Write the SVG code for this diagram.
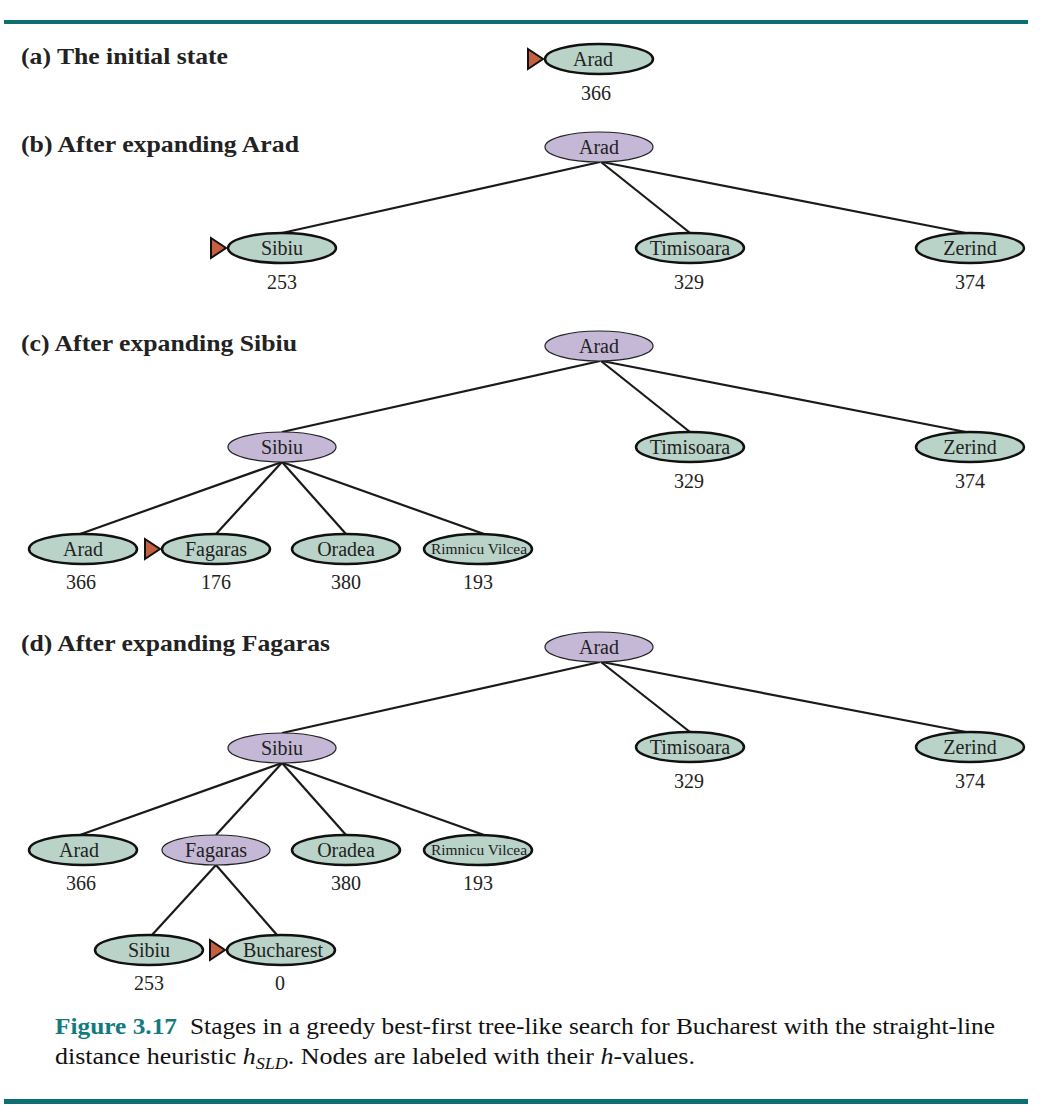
<svg xmlns="http://www.w3.org/2000/svg" width="1056" height="1120" viewBox="0 0 1056 1120" font-family="'Liberation Serif', 'Times New Roman', Times, serif">
<style>
.g{fill:#b9d3c8;stroke:#111;stroke-width:2.5}
.p{fill:#c4b8d6;stroke:#222;stroke-width:1.2}
.t{font-size:20px;fill:#222;text-anchor:middle}
.s{font-size:15px;fill:#222;text-anchor:middle}
.h{font-size:23px;font-weight:bold;fill:#222}
.c{font-size:23px;fill:#111}
.fig{font-size:23px;font-weight:bold;fill:#137b7e}
.e line{stroke:#1a1a1a;stroke-width:2.2}
.ptr{fill:#c4603f;stroke:#111;stroke-width:2}
</style>
<rect x="4" y="20" width="1024" height="4" fill="#0e6f72"/>
<rect x="4" y="1099" width="1024" height="5" fill="#0e6f72"/>
<text class="h" x="21" y="64" textLength="207" lengthAdjust="spacingAndGlyphs">(a) The initial state</text>
<text class="h" x="21" y="152" textLength="278" lengthAdjust="spacingAndGlyphs">(b) After expanding Arad</text>
<text class="h" x="21" y="351" textLength="276" lengthAdjust="spacingAndGlyphs">(c) After expanding Sibiu</text>
<text class="h" x="21" y="651" textLength="309" lengthAdjust="spacingAndGlyphs">(d) After expanding Fagaras</text>
<g id="edges" class="e">
<line x1="600" y1="162" x2="282" y2="233"/>
<line x1="601" y1="162" x2="690" y2="233"/>
<line x1="602" y1="162" x2="966" y2="233"/>
<line x1="600" y1="361" x2="282" y2="432"/>
<line x1="601" y1="361" x2="690" y2="432"/>
<line x1="602" y1="361" x2="966" y2="432"/>
<line x1="282" y1="462" x2="80" y2="534"/>
<line x1="282" y1="462" x2="216" y2="534"/>
<line x1="282" y1="462" x2="346" y2="534"/>
<line x1="282" y1="462" x2="484" y2="534"/>
<line x1="600" y1="662" x2="282" y2="733"/>
<line x1="601" y1="662" x2="690" y2="732"/>
<line x1="602" y1="662" x2="966" y2="732"/>
<line x1="282" y1="763" x2="80" y2="835"/>
<line x1="282" y1="763" x2="216" y2="835"/>
<line x1="282" y1="763" x2="346" y2="835"/>
<line x1="282" y1="763" x2="484" y2="835"/>
<line x1="216" y1="865" x2="152" y2="935"/>
<line x1="216" y1="865" x2="277" y2="935"/>
</g>
<g id="a-arad"><polygon class="ptr" points="528,49 543,59 528,69"/><ellipse class="g" cx="599" cy="59" rx="54" ry="15"/><text class="t" x="593" y="66">Arad</text><text class="t" x="596" y="100">366</text></g>
<g id="b-arad"><ellipse class="p" cx="599" cy="147" rx="54" ry="15"/><text class="t" x="599" y="154">Arad</text></g>
<g id="b-sibiu"><polygon class="ptr" points="211,238 226,248 211,258"/><ellipse class="g" cx="282" cy="248" rx="54" ry="15"/><text class="t" x="282" y="255">Sibiu</text><text class="t" x="282" y="289">253</text></g>
<g id="b-timisoara"><ellipse class="g" cx="690" cy="248" rx="54" ry="15"/><text class="t" x="690" y="255">Timisoara</text><text class="t" x="689" y="289">329</text></g>
<g id="b-zerind"><ellipse class="g" cx="970" cy="248" rx="54" ry="15"/><text class="t" x="970" y="255">Zerind</text><text class="t" x="970" y="289">374</text></g>
<g id="c-arad"><ellipse class="p" cx="599" cy="346" rx="54" ry="15"/><text class="t" x="599" y="353">Arad</text></g>
<g id="c-sibiu"><ellipse class="p" cx="282" cy="447" rx="54" ry="15"/><text class="t" x="282" y="454">Sibiu</text></g>
<g id="c-timisoara"><ellipse class="g" cx="690" cy="447" rx="54" ry="15"/><text class="t" x="690" y="454">Timisoara</text><text class="t" x="689" y="488">329</text></g>
<g id="c-zerind"><ellipse class="g" cx="970" cy="447" rx="54" ry="15"/><text class="t" x="970" y="454">Zerind</text><text class="t" x="970" y="488">374</text></g>
<g id="c-arad2"><ellipse class="g" cx="83" cy="549" rx="54" ry="15"/><text class="t" x="83" y="556">Arad</text><text class="t" x="81" y="589">366</text></g>
<g id="c-fagaras"><polygon class="ptr" points="145,539 160,549 145,559"/><ellipse class="g" cx="216" cy="549" rx="54" ry="15"/><text class="t" x="216" y="556">Fagaras</text><text class="t" x="216" y="589">176</text></g>
<g id="c-oradea"><ellipse class="g" cx="346" cy="549" rx="54" ry="15"/><text class="t" x="346" y="556">Oradea</text><text class="t" x="346" y="589">380</text></g>
<g id="c-rimnicu"><ellipse class="g" cx="478" cy="549" rx="54" ry="15"/><text class="s" x="479" y="554" textLength="96" lengthAdjust="spacingAndGlyphs">Rimnicu Vilcea</text><text class="t" x="478" y="589">193</text></g>
<g id="d-arad"><ellipse class="p" cx="599" cy="647" rx="54" ry="15"/><text class="t" x="599" y="654">Arad</text></g>
<g id="d-sibiu"><ellipse class="p" cx="282" cy="748" rx="54" ry="15"/><text class="t" x="282" y="755">Sibiu</text></g>
<g id="d-timisoara"><ellipse class="g" cx="690" cy="747" rx="54" ry="15"/><text class="t" x="690" y="754">Timisoara</text><text class="t" x="689" y="788">329</text></g>
<g id="d-zerind"><ellipse class="g" cx="970" cy="747" rx="54" ry="15"/><text class="t" x="970" y="754">Zerind</text><text class="t" x="970" y="788">374</text></g>
<g id="d-arad2"><ellipse class="g" cx="83" cy="850" rx="54" ry="15"/><text class="t" x="79" y="857">Arad</text><text class="t" x="81" y="890">366</text></g>
<g id="d-fagaras"><ellipse class="p" cx="216" cy="850" rx="54" ry="15"/><text class="t" x="216" y="857">Fagaras</text></g>
<g id="d-oradea"><ellipse class="g" cx="346" cy="850" rx="54" ry="15"/><text class="t" x="346" y="857">Oradea</text><text class="t" x="346" y="890">380</text></g>
<g id="d-rimnicu"><ellipse class="g" cx="478" cy="850" rx="54" ry="15"/><text class="s" x="479" y="855" textLength="96" lengthAdjust="spacingAndGlyphs">Rimnicu Vilcea</text><text class="t" x="478" y="890">193</text></g>
<g id="d-sibiu2"><ellipse class="g" cx="149" cy="950" rx="54" ry="15"/><text class="t" x="149" y="957">Sibiu</text><text class="t" x="149" y="990">253</text></g>
<g id="d-bucharest"><polygon class="ptr" points="210,940 225,950 210,960"/><ellipse class="g" cx="281" cy="950" rx="54" ry="15"/><text class="t" x="283" y="957">Bucharest</text><text class="t" x="280" y="990">0</text></g>
<text class="fig" x="55" y="1034" textLength="122" lengthAdjust="spacingAndGlyphs">Figure 3.17</text>
<text class="c" x="190" y="1034" textLength="805" lengthAdjust="spacingAndGlyphs">Stages in a greedy best-first tree-like search for Bucharest with the straight-line</text>
<text class="c" x="55" y="1064" textLength="640" lengthAdjust="spacingAndGlyphs">distance heuristic <tspan font-style="italic">h</tspan><tspan font-style="italic" font-size="16" dy="5">SLD</tspan><tspan dy="-5">. Nodes are labeled with their </tspan><tspan font-style="italic">h</tspan>-values.</text>
</svg>
